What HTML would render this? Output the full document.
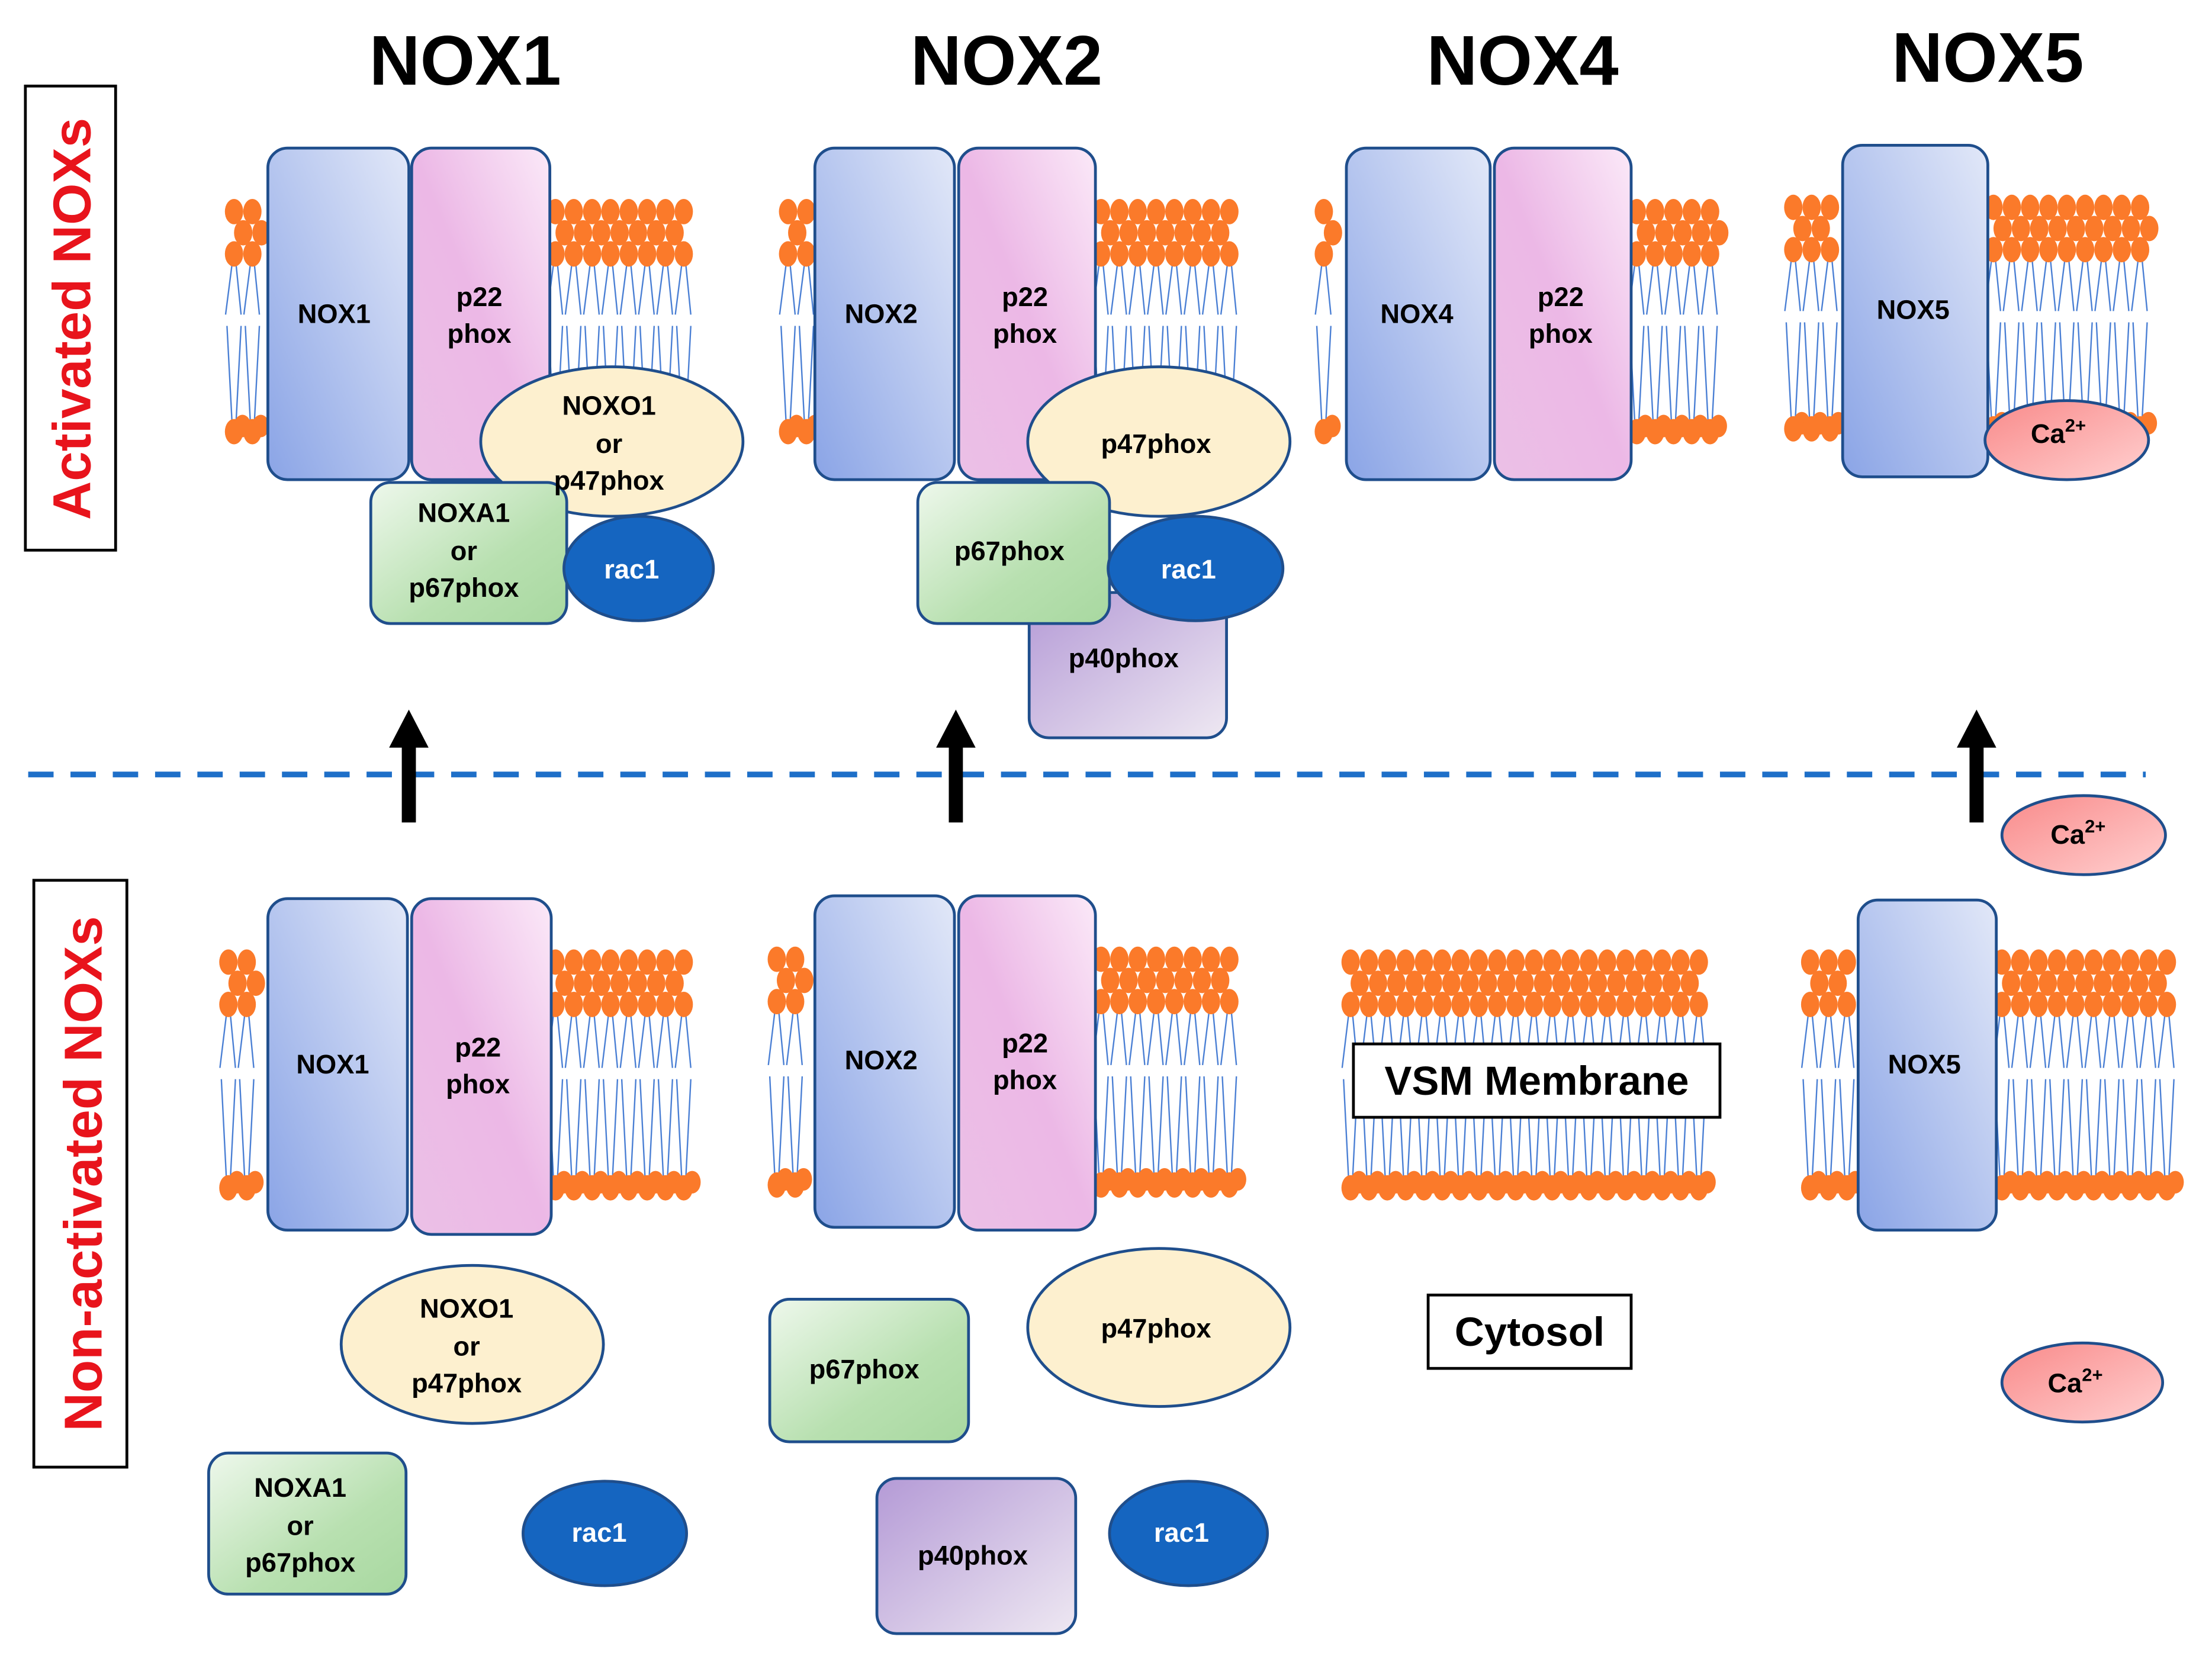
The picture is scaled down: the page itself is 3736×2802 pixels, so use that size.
<!DOCTYPE html>
<html><head><meta charset="utf-8"><style>
html,body{margin:0;padding:0;background:#fff}
svg{display:block}
text{font-family:"Liberation Sans",Arial,sans-serif;font-weight:bold}
</style></head><body>
<svg id="s" width="3736" height="2802" viewBox="0 0 1569 1176" preserveAspectRatio="none" xmlns="http://www.w3.org/2000/svg">
<defs>
<linearGradient id="gb" x1="1" y1="0" x2="0" y2="1"><stop offset="0" stop-color="#e2e8f8"/><stop offset="1" stop-color="#8aa4e6"/></linearGradient>
<linearGradient id="gp" x1="1" y1="0" x2="0" y2="1"><stop offset="0" stop-color="#fbe9f8"/><stop offset="0.5" stop-color="#ecb8e6"/><stop offset="1" stop-color="#ebc0e6"/></linearGradient>
<linearGradient id="gg" x1="0" y1="0" x2="1" y2="1"><stop offset="0" stop-color="#eef8ec"/><stop offset="0.6" stop-color="#b8e0b0"/><stop offset="1" stop-color="#a8d8a0"/></linearGradient>
<linearGradient id="gv" x1="0" y1="0" x2="1" y2="1"><stop offset="0" stop-color="#b49ad6"/><stop offset="1" stop-color="#eee8f2"/></linearGradient>
<linearGradient id="gc" x1="0" y1="0" x2="1" y2="1"><stop offset="0" stop-color="#f98a8a"/><stop offset="1" stop-color="#ffd0d0"/></linearGradient>
</defs>
<g id="mem"></g>
<g id="fg" stroke="#1f4e8c" stroke-width="2">
<rect x="190" y="105" width="100" height="235" rx="14" fill="url(#gb)"/>
<rect x="292" y="105" width="98" height="235" rx="14" fill="url(#gp)"/>
<ellipse cx="434" cy="313" rx="93" ry="53" fill="#fdf0cf"/>
<rect x="263" y="342" width="139" height="100" rx="14" fill="url(#gg)"/>
<ellipse cx="453" cy="403" rx="53" ry="37" fill="#1565c0"/>
<rect x="578" y="105" width="99" height="235" rx="14" fill="url(#gb)"/>
<rect x="680" y="105" width="97" height="235" rx="14" fill="url(#gp)"/>
<rect x="730" y="420" width="140" height="103" rx="14" fill="url(#gv)"/>
<ellipse cx="822" cy="313" rx="93" ry="53" fill="#fdf0cf"/>
<rect x="651" y="342" width="136" height="100" rx="14" fill="url(#gg)"/>
<ellipse cx="848" cy="403" rx="62" ry="37" fill="#1565c0"/>
<rect x="955" y="105" width="102" height="235" rx="14" fill="url(#gb)"/>
<rect x="1060" y="105" width="97" height="235" rx="14" fill="url(#gp)"/>
<rect x="1307" y="103" width="103" height="235" rx="14" fill="url(#gb)"/>
<ellipse cx="1466" cy="312" rx="58" ry="28" fill="url(#gc)"/>
<ellipse cx="1478" cy="592" rx="58" ry="28" fill="url(#gc)"/>
<rect x="190" y="637" width="99" height="235" rx="14" fill="url(#gb)"/>
<rect x="292" y="637" width="99" height="238" rx="14" fill="url(#gp)"/>
<ellipse cx="335" cy="953" rx="93" ry="56" fill="#fdf0cf"/>
<rect x="148" y="1030" width="140" height="100" rx="14" fill="url(#gg)"/>
<ellipse cx="429" cy="1087" rx="58" ry="37" fill="#1565c0"/>
<rect x="578" y="635" width="99" height="235" rx="14" fill="url(#gb)"/>
<rect x="680" y="635" width="97" height="237" rx="14" fill="url(#gp)"/>
<rect x="546" y="921" width="141" height="101" rx="14" fill="url(#gg)"/>
<ellipse cx="822" cy="941" rx="93" ry="56" fill="#fdf0cf"/>
<rect x="622" y="1048" width="141" height="110" rx="14" fill="url(#gv)"/>
<ellipse cx="843" cy="1087" rx="56" ry="37" fill="#1565c0"/>
<rect x="1318" y="638" width="98" height="234" rx="14" fill="url(#gb)"/>
<ellipse cx="1477" cy="980" rx="57" ry="28" fill="url(#gc)"/>
</g>
<rect x="960" y="740" width="260" height="52" fill="#fff" stroke="#000" stroke-width="2"/>
<rect x="1013" y="918" width="144" height="52" fill="#fff" stroke="#000" stroke-width="2"/>
<rect x="18" y="61" width="64" height="329" fill="#fff" stroke="#000" stroke-width="2"/>
<rect x="24" y="624" width="66" height="416" fill="#fff" stroke="#000" stroke-width="2"/>
<line x1="20" y1="549" x2="1522" y2="549" stroke="#1e6fc8" stroke-width="4" stroke-dasharray="18 12"/>
<g fill="#000">
<path d="M285 583 V530 H276 L290 503 L304 530 H295 V583Z"/>
<path d="M673 583 V530 H664 L678 503 L692 530 H683 V583Z"/>
<path d="M1397 583 V530 H1388 L1402 503 L1416 530 H1407 V583Z"/>
</g>
<g font-size="50" text-anchor="middle" fill="#000">
<text x="330" y="60">NOX1</text><text x="714" y="60">NOX2</text><text x="1080" y="60">NOX4</text><text x="1410" y="58">NOX5</text>
</g>
<g font-size="38" text-anchor="middle" fill="#e8141c">
<text transform="translate(64,226) rotate(-90)">Activated NOXs</text>
<text transform="translate(72,832) rotate(-90)">Non-activated NOXs</text>
</g>
<g font-size="29" text-anchor="middle" fill="#000">
<text x="1090" y="776">VSM Membrane</text><text x="1085" y="954">Cytosol</text>
</g>
<g font-size="19" text-anchor="middle" fill="#000">
<text x="237" y="229">NOX1</text><text x="340" y="217">p22</text><text x="340" y="243">phox</text>
<text x="432" y="294">NOXO1</text><text x="432" y="321">or</text><text x="432" y="347">p47phox</text>
<text x="329" y="370">NOXA1</text><text x="329" y="397">or</text><text x="329" y="423">p67phox</text>
<text x="448" y="410" fill="#fff">rac1</text>
<text x="625" y="229">NOX2</text><text x="727" y="217">p22</text><text x="727" y="243">phox</text>
<text x="820" y="321">p47phox</text><text x="716" y="397">p67phox</text>
<text x="843" y="410" fill="#fff">rac1</text><text x="797" y="473">p40phox</text>
<text x="1005" y="229">NOX4</text><text x="1107" y="217">p22</text><text x="1107" y="243">phox</text>
<text x="1357" y="226">NOX5</text>
<text x="1460" y="314">Ca<tspan font-size="13" dy="-8">2+</tspan></text>
<text x="1474" y="598">Ca<tspan font-size="13" dy="-8">2+</tspan></text>
<text x="1472" y="987">Ca<tspan font-size="13" dy="-8">2+</tspan></text>
<text x="236" y="761">NOX1</text><text x="339" y="749">p22</text><text x="339" y="775">phox</text>
<text x="331" y="934">NOXO1</text><text x="331" y="961">or</text><text x="331" y="987">p47phox</text>
<text x="213" y="1061">NOXA1</text><text x="213" y="1088">or</text><text x="213" y="1114">p67phox</text>
<text x="425" y="1093" fill="#fff">rac1</text>
<text x="625" y="758">NOX2</text><text x="727" y="746">p22</text><text x="727" y="772">phox</text>
<text x="613" y="977">p67phox</text><text x="820" y="948">p47phox</text>
<text x="690" y="1109">p40phox</text><text x="838" y="1093" fill="#fff">rac1</text>
<text x="1365" y="761">NOX5</text>
</g>
</svg>
<script>
(function(){
var g=document.getElementById("mem"),h="";
function seg(x1,x2,yt,yb){
  var dx=13;
  for(var x=x1+6;x<=x2-6;x+=dx){
    var m=(yt+yb)/2;
    h+='<path d="M'+(x-1.5)+' '+(yt+40)+' L'+(x-6)+' '+(m-4)+' M'+(x+1.5)+' '+(yt+40)+' L'+(x+5)+' '+(m-4)+'" stroke="#4a7fd4" stroke-width="1" fill="none"/>';
    h+='<path d="M'+(x-1.5)+' '+(yb-8)+' L'+(x-5)+' '+(m+4)+' M'+(x+1.5)+' '+(yb-8)+' L'+(x+5)+' '+(m+4)+'" stroke="#4a7fd4" stroke-width="1" fill="none"/>';
  }
  for(var r=0;r<3;r++){
    var off=(r==1)?-dx/2:0;
    for(var x=x1+6+off;x<=x2-6;x+=dx){
      if(x<x1+3)continue;
      h+='<ellipse cx="'+x+'" cy="'+(yt+r*15+2)+'" rx="6.5" ry="9" fill="#fb7a2a"/>';
    }
  }
  for(var x=x1+6;x<=x2-6;x+=dx){
    h+='<ellipse cx="'+x+'" cy="'+yb+'" rx="6.5" ry="9" fill="#fb7a2a"/>';
    h+='<ellipse cx="'+(x+6)+'" cy="'+(yb-4)+'" rx="6" ry="8" fill="#fb7a2a"/>';
  }
}
seg(160,192,148,306);seg(388,496,148,306);
seg(553,580,148,306);seg(775,884,148,306);
seg(933,957,148,306);seg(1155,1228,148,306);
seg(1266,1310,145,304);seg(1408,1534,145,304);
seg(156,192,680,842);seg(388,497,680,842);
seg(545,580,678,840);seg(775,882,678,840);
seg(952,1216,680,842);
seg(1278,1320,680,842);seg(1414,1546,680,842);
g.innerHTML=h;
})();
</script>
</body></html>
